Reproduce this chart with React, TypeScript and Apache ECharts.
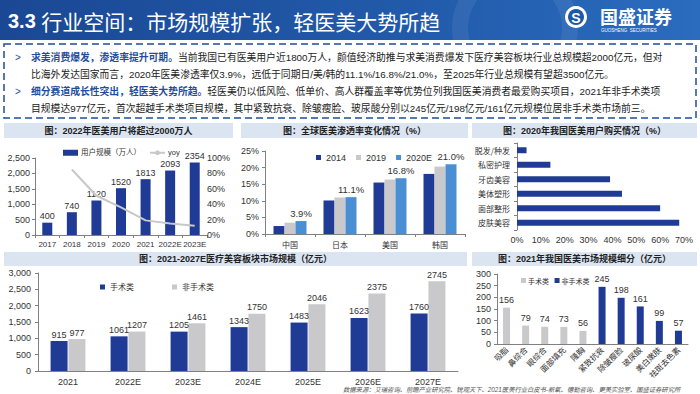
import React, { useEffect, useRef } from 'react';
import * as echarts from 'echarts';

// ---- data ----
const userYears = ['2017', '2018', '2019', '2020', '2021', '2022E', '2023E'];
const userCounts = [400, 740, 1120, 1520, 1813, 2093, 2354];
const userYoy = ['-', 85, 51, 36, 19, 15, 12];

const countries = ['中国', '日本', '美国', '韩国'];
const pen2014 = [2.4, 10.1, 15.5, 18.1];
const pen2019 = [3.4, 11.0, 16.4, 20.3];
const pen2020E = [3.9, 11.1, 16.8, 21.0];

const purchaseItems = ['皮肤美容', '面部整形', '美体塑形', '牙齿美容', '私密护理', '脱发/种发'];
const purchaseShare = [68, 60, 44, 39, 14, 4];

const marketYears = ['2021', '2022E', '2023E', '2024E', '2025E', '2026E', '2027E'];
const surgical = [915, 1061, 1205, 1343, 1483, 1623, 1760];
const nonSurgical = [977, 1207, 1461, 1750, 2046, 2375, 2745];

const segItems = ['吸脂', '鼻综合', '眼综合', '面部填充', '隆胸', '紧致抗衰', '除皱瘦脸', '玻尿酸', '美白嫩肤', '祛斑去色素'];
const segSurgical = [156, 79, 74, 73, 56, '-', '-', '-', '-', '-'];
const segNonSurgical = ['-', '-', '-', '-', '-', 245, 198, 161, 99, 57];

const bodyLines = [
  { head: '求美消费爆发，渗透率提升可期。', text: '当前我国已有医美用户近1800万人，颜值经济助推与求美消费爆发下医疗美容板块行业总规模超2000亿元，但对' },
  { head: '', text: '比海外发达国家而言，2020年医美渗透率仅3.9%，远低于同期日/美/韩的11.1%/16.8%/21.0%，至2025年行业总规模有望超3500亿元。' },
  { head: '细分赛道成长性突出，轻医美大势所趋。', text: '轻医美仍以低风险、低单价、高人群覆盖率等优势位列我国医美消费者最爱购买项目，2021年非手术类项' },
  { head: '', text: '目规模达977亿元，首次超越手术类项目规模，其中紧致抗衰、除皱瘦脸、玻尿酸分别以245亿元/198亿元/161亿元规模位居非手术类市场前三。' },
];

const DARK = '#1f3b96';
const GRAY = '#c9c9cb';
const MID = '#4a8fd4';
const NUM = "'Liberation Sans', 'Noto Sans CJK SC', sans-serif";
const CJK = "'Noto Sans CJK SC', sans-serif";
const AX = '#808080';

const axisLine = { show: true, lineStyle: { color: AX, width: 1 } };
const axisTick = { show: true, length: 3, lineStyle: { color: AX } };
const lab = (extra: any = {}) => ({ fontSize: 9, color: '#333', fontFamily: NUM, ...extra });

function titleBar(x: number, y: number, w: number, h: number, text: string, cx?: number) {
  return [
    { type: 'rect', shape: { x, y, width: w, height: h }, style: { fill: '#dbe5f1' }, silent: true },
    {
      type: 'text', x: cx ?? x + w / 2, y: y + h / 2,
      style: { text, fontSize: 9, fontWeight: 'bold', fill: '#222', fontFamily: NUM, align: 'center', verticalAlign: 'middle' },
    },
  ];
}

function buildOption(): any {
  const graphics: any[] = [];
  // header
  graphics.push({
    type: 'rect', shape: { x: 0, y: 0, width: 700, height: 40 },
    style: { fill: new echarts.graphic.LinearGradient(0, 0, 1, 0, [
      { offset: 0, color: '#1a4894' }, { offset: 0.6, color: '#225bab' }, { offset: 1, color: '#2b6cbf' },
    ]) },
  });
  graphics.push({ type: 'circle', shape: { cx: 515, cy: 28, r: 55 }, style: { fill: 'none', stroke: 'rgba(255,255,255,0.07)', lineWidth: 16 } });
  graphics.push({
    type: 'text', x: 8, y: 21,
    style: {
      text: '{a|3.3 }{b|行业空间：市场规模扩张，轻医美大势所趋}',
      verticalAlign: 'middle',
      rich: {
        a: { fontSize: 20, fontWeight: 'bold', fill: '#fff', fontFamily: NUM },
        b: { fontSize: 21, fill: '#fff', fontFamily: CJK },
      },
    },
  });
  // logo
  graphics.push({ type: 'circle', shape: { cx: 576, cy: 17, r: 11 }, style: { fill: '#fff' } });
  graphics.push({ type: 'circle', shape: { cx: 576, cy: 17, r: 8 }, style: { fill: '#1f58a8' } });
  graphics.push({ type: 'text', x: 576, y: 17.5, style: { text: 'S', fontSize: 14, fontWeight: 'bold', fill: '#fff', fontFamily: NUM, align: 'center', verticalAlign: 'middle' } });
  graphics.push({ type: 'text', x: 600, y: 16, style: { text: '国盛证券', fontSize: 18, fontWeight: 'bold', fill: '#fff', fontFamily: CJK, verticalAlign: 'middle' } });
  graphics.push({ type: 'text', x: 601, y: 30, style: { text: 'GUOSHENG  SECURITIES', fontSize: 4.5, fill: '#fff', fontFamily: NUM, verticalAlign: 'middle' } });

  // text box
  graphics.push({
    type: 'rect', shape: { x: 4, y: 44, width: 692, height: 74 },
    style: { fill: 'none', stroke: '#1f4e9c', lineWidth: 1.5, lineDash: [7, 4] },
  });
  const ys = [57, 74, 91, 108];
  bodyLines.forEach((l, i) => {
    if (l.head) {
      graphics.push({ type: 'text', x: 15, y: ys[i], style: { text: '>', fontSize: 10, fill: '#1f4e9c', fontFamily: NUM, verticalAlign: 'middle' } });
    }
    graphics.push({
      type: 'text', x: 31, y: ys[i],
      style: {
        text: (l.head ? '{h|' + l.head + '}' : '') + '{n|' + l.text + '}',
        verticalAlign: 'middle',
        rich: {
          h: { fontSize: 9.8, fontWeight: 'bold', fill: '#1f4e9c', fontFamily: NUM },
          n: { fontSize: 9.8, fill: '#222', fontFamily: NUM },
        },
      },
    });
  });

  // panel titles
  graphics.push(...titleBar(4, 123, 229, 15, '图：2022年医美用户将超过2000万人'));
  graphics.push(...titleBar(241, 123, 227, 15, '图：全球医美渗透率变化情况（%）'));
  graphics.push(...titleBar(472, 123, 225, 15, '图：2020年我国医美用户购买情况（%）'));
  graphics.push(...titleBar(4, 252, 463, 14, '图：2021-2027E医疗美容板块市场规模（亿元）'));
  graphics.push(...titleBar(472, 252, 225, 14, '图：2021年我国医美市场规模细分（亿元）'));

  // footer
  graphics.push({
    type: 'text', x: 343, y: 389,
    style: {
      text: '数据来源：艾瑞咨询、前瞻产业研究院、锐观天下、2021医美行业白皮书-新氧、德勤咨询、更美实验室、国盛证券研究所',
      fontSize: 6.3, fontStyle: 'italic', fill: '#555', fontFamily: NUM, verticalAlign: 'middle',
    },
  });

  return {
    animation: false,
    backgroundColor: '#fff',
    textStyle: { fontFamily: NUM },
    graphic: graphics,
    legend: [
      {
        data: [{ name: '用户规模（万人）', icon: 'rect' }, { name: 'yoy' }],
        left: 58, top: 144, itemWidth: 15, itemHeight: 6, itemGap: 8,
        textStyle: { fontSize: 7.5, color: '#333', fontFamily: NUM, padding: [0, 0, 0, -2] },
      },
      {
        data: ['2014', '2019', '2020E'], left: 311, top: 148, icon: 'rect',
        itemWidth: 5, itemHeight: 5, itemGap: 10,
        textStyle: { fontSize: 9, color: '#333', fontFamily: NUM },
      },
      {
        data: ['手术类', '非手术类'], left: 95, top: 278, icon: 'rect',
        itemWidth: 5, itemHeight: 5, itemGap: 38,
        textStyle: { fontSize: 8, color: '#333', fontFamily: CJK },
      },
      {
        data: [{ name: '手术类 ', icon: 'rect' }, { name: '非手术类 ', icon: 'rect' }], left: 516, top: 272,
        itemWidth: 5, itemHeight: 5, itemGap: 4,
        textStyle: { fontSize: 7, color: '#333', fontFamily: CJK, padding: [0, 0, 0, -3] },
      },
    ],
    grid: [
      { left: 35, top: 158, width: 172, height: 77 },
      { left: 265, top: 151, width: 200, height: 83 },
      { left: 517, top: 143, width: 167, height: 87 },
      { left: 38, top: 273, width: 420, height: 98 },
      { left: 497, top: 274, width: 191, height: 70 },
    ],
    xAxis: [
      { type: 'category', gridIndex: 0, data: userYears, axisLine, axisTick, axisLabel: lab({ margin: 5, fontSize: 8, interval: 0 }) },
      { type: 'category', gridIndex: 1, data: countries, axisLine, axisTick, axisLabel: lab({ fontFamily: CJK, fontSize: 8, margin: 6 }) },
      {
        type: 'value', gridIndex: 2, min: 0, max: 70, interval: 10,
        axisLine: { show: false }, axisTick: { show: false }, splitLine: { show: false },
        axisLabel: lab({ formatter: '{value}%', margin: 5 }),
      },
      { type: 'category', gridIndex: 3, data: marketYears, axisLine, axisTick: { show: false }, axisLabel: lab({ margin: 6, interval: 0 }) },
      {
        type: 'category', gridIndex: 4, data: segItems, axisLine, axisTick: { show: false },
        axisLabel: lab({ fontFamily: CJK, fontSize: 8, rotate: 45, margin: 4, interval: 0 }),
      },
    ],
    yAxis: [
      { type: 'value', gridIndex: 0, min: 0, max: 2500, interval: 500, axisLine, axisTick, splitLine: { show: false }, axisLabel: lab({ margin: 5 }) },
      {
        type: 'value', gridIndex: 0, position: 'right', min: 0, max: 100, interval: 20,
        axisLine: { show: false }, axisTick: { show: false }, splitLine: { show: false },
        axisLabel: lab({ formatter: '{value}%', margin: 0 }),
      },
      {
        type: 'value', gridIndex: 1, min: 0, max: 25, interval: 5, axisLine, axisTick, splitLine: { show: false },
        axisLabel: lab({ formatter: '{value}%', margin: 6 }),
      },
      { type: 'category', gridIndex: 2, data: purchaseItems, axisLine, axisTick, axisLabel: lab({ fontFamily: CJK, fontSize: 8, margin: 7 }) },
      { type: 'value', gridIndex: 3, min: 0, max: 3000, interval: 500, axisLine, axisTick, splitLine: { show: false }, axisLabel: lab({ margin: 7 }) },
      { type: 'value', gridIndex: 4, min: 0, max: 300, interval: 50, axisLine, axisTick, splitLine: { show: false }, axisLabel: lab({ margin: 6 }) },
    ],
    series: [
      {
        name: '用户规模（万人）', type: 'bar', xAxisIndex: 0, yAxisIndex: 0, data: userCounts, barWidth: 10,
        itemStyle: { color: DARK }, label: { show: true, position: 'top', distance: 2, ...lab() },
      },
      {
        name: 'yoy', type: 'line', xAxisIndex: 0, yAxisIndex: 1, data: userYoy, symbol: 'none',
        lineStyle: { color: '#c8c8c8', width: 2 }, itemStyle: { color: '#c8c8c8' },
      },
      { name: '2014', type: 'bar', xAxisIndex: 1, yAxisIndex: 2, data: pen2014, barWidth: 11, barGap: '0%', itemStyle: { color: DARK } },
      { name: '2019', type: 'bar', xAxisIndex: 1, yAxisIndex: 2, data: pen2019, barWidth: 11, barGap: '0%', itemStyle: { color: GRAY } },
      {
        name: '2020E', type: 'bar', xAxisIndex: 1, yAxisIndex: 2, data: pen2020E, barWidth: 11, barGap: '0%', itemStyle: { color: MID },
        label: { show: true, position: 'top', distance: 3, formatter: (p: any) => Number(p.value).toFixed(1) + '%', ...lab({ fontSize: 9.5 }) },
      },
      { name: 'purchase', type: 'bar', xAxisIndex: 2, yAxisIndex: 3, data: purchaseShare, barWidth: 6, itemStyle: { color: DARK } },
      {
        name: '手术类', type: 'bar', xAxisIndex: 3, yAxisIndex: 4, data: surgical, barWidth: 17, barGap: '5%',
        itemStyle: { color: DARK }, label: { show: true, position: 'top', distance: 2, ...lab() },
      },
      {
        name: '非手术类', type: 'bar', xAxisIndex: 3, yAxisIndex: 4, data: nonSurgical, barWidth: 17, barGap: '5%',
        itemStyle: { color: GRAY }, label: { show: true, position: 'top', distance: 2, ...lab() },
      },
      {
        name: '手术类 ', type: 'bar', xAxisIndex: 4, yAxisIndex: 5, data: segSurgical, barWidth: 7, barGap: '-100%',
        itemStyle: { color: GRAY }, label: { show: true, position: 'top', distance: 3, ...lab() },
      },
      {
        name: '非手术类 ', type: 'bar', xAxisIndex: 4, yAxisIndex: 5, data: segNonSurgical, barWidth: 7, barGap: '-100%',
        itemStyle: { color: DARK }, label: { show: true, position: 'top', distance: 3, ...lab() },
      },
    ],
  };
}

export default function App() {
  const ref = useRef<HTMLDivElement>(null);
  useEffect(() => {
    if (!ref.current) return;
    const chart = echarts.init(ref.current, null, { renderer: 'svg' });
    chart.setOption(buildOption());
    return () => chart.dispose();
  }, []);
  return (
    <div
      ref={ref}
      style={{ position: 'fixed', left: 0, top: 0, width: 700, height: 394, background: '#fff' }}
    />
  );
}
